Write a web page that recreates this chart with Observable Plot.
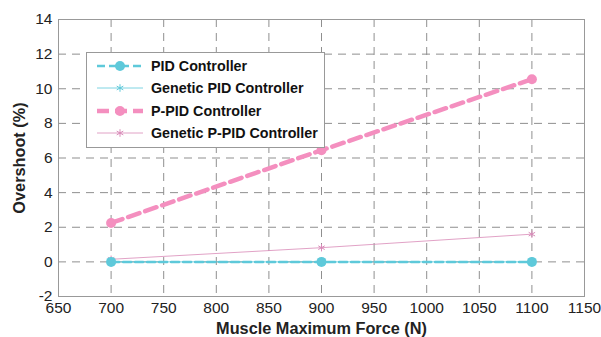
<!DOCTYPE html>
<html>
<head>
<meta charset="utf-8">
<script src="https://cdn.jsdelivr.net/npm/d3@7"></script>
<script src="https://cdn.jsdelivr.net/npm/@observablehq/plot@0.6"></script>
<style>
  html, body { margin: 0; padding: 0; background: #fff; }
  #wrap { position: relative; width: 601px; height: 337px; font-family: "Liberation Sans", Arial, sans-serif; }
  #legend { position: absolute; left: 86px; top: 52px; width: 239px; height: 96px; box-sizing: border-box;
            border: 1px solid #999; background: #fff; padding-top: 2px; }
  .row { display: flex; align-items: center; height: 22.3px; }
  .row svg { margin-left: 8px; margin-right: 6px; }
  .row span { font-weight: bold; font-size: 14.3px; color: #111; }
</style>
</head>
<body>
<div id="wrap"></div>
<script>
// Muscle maximum force (N) for each simulation run
const force = [700, 900, 1100];
// Overshoot (%) per controller
const pid = [0, 0, 0];
const geneticPid = [0, 0, 0];
const pPid = [2.25, 6.45, 10.55];
const geneticPPid = [0.15, 0.82, 1.6];

const seriesNames = ["PID Controller", "Genetic PID Controller", "P-PID Controller", "Genetic P-PID Controller"];
const xTicks = [650, 700, 750, 800, 850, 900, 950, 1000, 1050, 1100, 1150];
const yTicks = [-2, 0, 2, 4, 6, 8, 10, 12, 14];

const cyan = "#5ec9da";
const pink = "#f48fbf";
const pinkThin = "#d98ab8";

const rows = (vals) => force.map((f, i) => ({force: f, value: vals[i]}));
const dPid = rows(pid), dGPid = rows(geneticPid), dPPid = rows(pPid), dGPPid = rows(geneticPPid);

const chart = Plot.plot({
  width: 601,
  height: 337,
  marginLeft: 58,
  marginRight: 17,
  marginTop: 19,
  marginBottom: 41,
  style: {fontFamily: "Liberation Sans, Arial, sans-serif", fontSize: "15px", color: "#222"},
  x: {domain: [650, 1150]},
  y: {domain: [-2, 14]},
  marks: [
    Plot.gridX(xTicks, {stroke: "#8f8f8f", strokeOpacity: 1, strokeDasharray: "8,6"}),
    Plot.gridY(yTicks, {stroke: "#8f8f8f", strokeOpacity: 1, strokeDasharray: "8,6"}),
    Plot.frame({stroke: "#999"}),
    Plot.axisX({ticks: xTicks, tickFormat: d => String(d), tickSize: 0, tickPadding: 5, fontSize: 15.5, label: null}),
    Plot.axisX({ticks: [], label: "Muscle Maximum Force (N)", labelAnchor: "center", labelArrow: "none", labelOffset: 37, fontSize: 16.3}),
    Plot.axisY({ticks: yTicks, tickFormat: d => String(d), tickSize: 0, tickPadding: 6, fontSize: 15.5, label: null}),
    Plot.axisY({ticks: [], label: "Overshoot (%)", labelAnchor: "center", labelArrow: "none", labelOffset: 45, fontSize: 16.3}),
    // Genetic P-PID
    Plot.line(dGPPid, {x: "force", y: "value", stroke: pinkThin, strokeWidth: 0.8}),
    Plot.dot(dGPPid, {x: "force", y: "value", symbol: "asterisk", r: 3.5, stroke: pinkThin, strokeWidth: 1}),
    // P-PID
    Plot.line(dPPid, {x: "force", y: "value", stroke: pink, strokeWidth: 4.5, strokeDasharray: "12,6"}),
    Plot.dot(dPPid, {x: "force", y: "value", r: 5, fill: pink}),
    // Genetic PID
    Plot.line(dGPid, {x: "force", y: "value", stroke: cyan, strokeWidth: 0.8}),
    Plot.dot(dGPid, {x: "force", y: "value", symbol: "asterisk", r: 3.5, stroke: cyan, strokeWidth: 1}),
    // PID
    Plot.line(dPid, {x: "force", y: "value", stroke: cyan, strokeWidth: 2.5, strokeDasharray: "8,4"}),
    Plot.dot(dPid, {x: "force", y: "value", r: 5, fill: cyan})
  ]
});
chart.querySelectorAll('[aria-label="x-axis label"] text, [aria-label="y-axis label"] text').forEach(t => {
  t.setAttribute("font-weight", "bold");
});
const wrap = document.getElementById("wrap");
wrap.appendChild(chart);

// Legend box
const styles = [
  {stroke: cyan, width: 2.5, dash: "8,4", marker: "dot"},
  {stroke: cyan, width: 0.8, dash: null, marker: "star"},
  {stroke: pink, width: 4.5, dash: "12,6", marker: "dot"},
  {stroke: pinkThin, width: 0.8, dash: null, marker: "star"}
];
const legend = document.createElement("div");
legend.id = "legend";
seriesNames.forEach((name, i) => {
  const s = styles[i];
  const row = document.createElement("div");
  row.className = "row";
  const svg = d3.create("svg").attr("width", 50).attr("height", 14);
  svg.append("line").attr("x1", 2).attr("x2", 48).attr("y1", 7).attr("y2", 7)
    .attr("stroke", s.stroke).attr("stroke-width", s.width).attr("stroke-dasharray", s.dash);
  if (s.marker === "dot") {
    svg.append("circle").attr("cx", 25).attr("cy", 7).attr("r", 5).attr("fill", s.stroke);
  } else {
    svg.append("path").attr("transform", "translate(25,7)")
      .attr("d", d3.symbol(d3.symbolAsterisk, 40)()).attr("stroke", s.stroke).attr("fill", "none");
  }
  row.appendChild(svg.node());
  const label = document.createElement("span");
  label.textContent = name;
  row.appendChild(label);
  legend.appendChild(row);
});
wrap.appendChild(legend);
</script>
</body>
</html>
